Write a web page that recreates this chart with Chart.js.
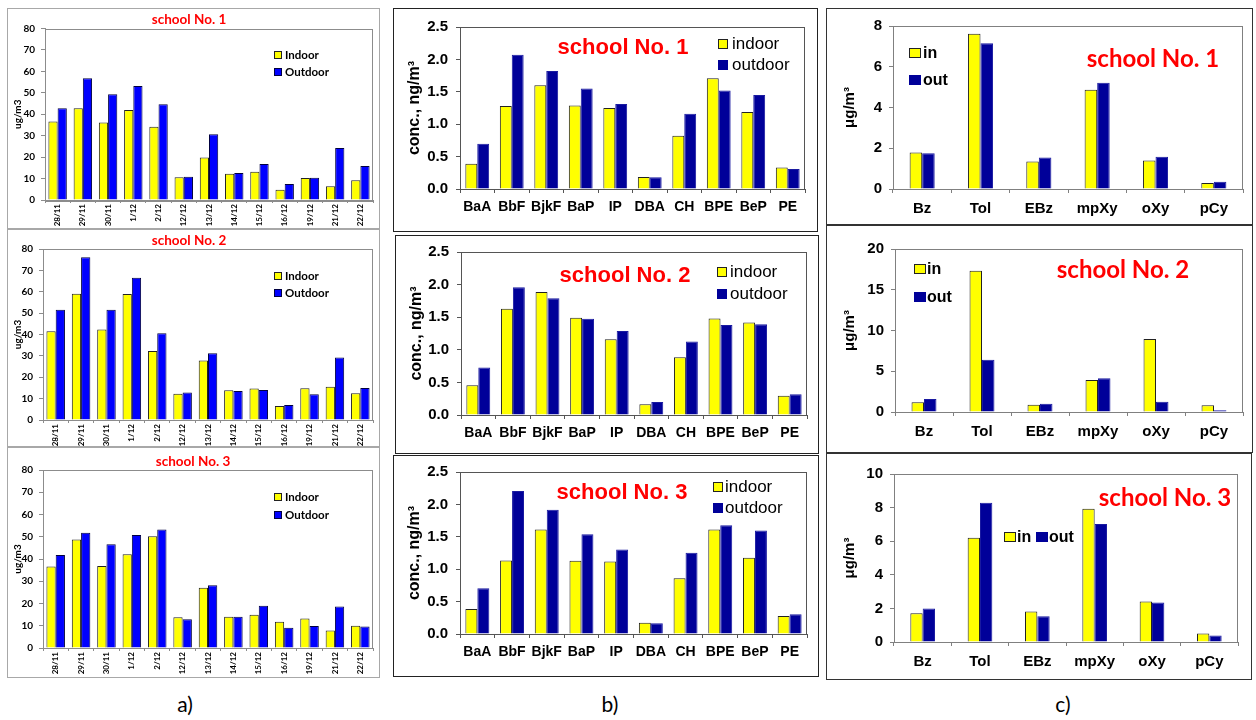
<!DOCTYPE html>
<html><head><meta charset="utf-8">
<script src="https://cdn.jsdelivr.net/npm/chart.js@4.4.1/dist/chart.umd.min.js"></script>
<style>
body{margin:0;background:#fff;width:1256px;height:720px;position:relative;overflow:hidden}
.frame{position:absolute;box-sizing:border-box}
canvas{position:absolute}
.lbl{position:absolute;font-family:Lato,sans-serif;font-size:21px;color:#000;transform:translate(-50%,-50%)}
</style></head><body>
<div class="lbl" style="left:185px;top:703px">a)</div>
<div class="lbl" style="left:610px;top:703px">b)</div>
<div class="lbl" style="left:1063px;top:703px">c)</div>
<script>
// ---------- data ----------
const dates = ['28/11','29/11','30/11','1/12','2/12','12/12','13/12','14/12','15/12','16/12','19/12','21/12','22/12'];
const s1DailyIn  = [36.6, 42.8, 36.1, 42.0, 34.2, 10.6, 19.8, 12.3, 13.2, 4.8, 10.3, 6.4, 9.2];
const s1DailyOut = [42.8, 56.8, 49.3, 53.2, 44.7, 10.9, 30.7, 12.6, 16.8, 7.5, 10.4, 24.3, 15.9];
const s2DailyIn  = [41.5, 59.1, 42.3, 59.0, 32.3, 12.3, 27.8, 13.9, 14.7, 6.6, 14.8, 15.6, 12.5];
const s2DailyOut = [51.6, 76.1, 51.6, 66.5, 40.6, 12.9, 31.2, 13.6, 14.0, 7.0, 12.0, 29.2, 15.0];
const s3DailyIn  = [36.6, 48.8, 36.9, 42.1, 50.2, 13.8, 27.1, 14.1, 15.0, 11.8, 13.3, 7.9, 10.0];
const s3DailyOut = [41.8, 51.8, 46.6, 50.8, 53.3, 12.9, 28.2, 14.1, 19.0, 9.1, 9.9, 18.7, 9.7];

const pahs = ['BaA','BbF','BjkF','BaP','IP','DBA','CH','BPE','BeP','PE'];
const s1PahIn  = [0.39, 1.28, 1.60, 1.29, 1.25, 0.185, 0.82, 1.71, 1.19, 0.33];
const s1PahOut = [0.70, 2.07, 1.82, 1.55, 1.31, 0.18, 1.16, 1.52, 1.45, 0.31];
const s2PahIn  = [0.456, 1.63, 1.885, 1.49, 1.16, 0.164, 0.886, 1.48, 1.42, 0.297];
const s2PahOut = [0.727, 1.96, 1.79, 1.475, 1.29, 0.20, 1.127, 1.38, 1.39, 0.318];
const s3PahIn  = [0.387, 1.134, 1.613, 1.129, 1.119, 0.175, 0.861, 1.613, 1.175, 0.278];
const s3PahOut = [0.706, 2.206, 1.918, 1.54, 1.304, 0.165, 1.253, 1.68, 1.598, 0.304];

const vocs = ['Bz','Tol','EBz','mpXy','oXy','pCy'];
const s1VocIn  = [1.79, 7.62, 1.35, 4.87, 1.40, 0.29];
const s1VocOut = [1.76, 7.15, 1.55, 5.21, 1.58, 0.36];
const s2VocIn  = [1.19, 17.34, 0.90, 3.93, 8.96, 0.82];
const s2VocOut = [1.60, 6.42, 1.02, 4.13, 1.27, 0.20];
const s3VocIn  = [1.71, 6.20, 1.81, 7.93, 2.41, 0.50];
const s3VocOut = [1.99, 8.29, 1.53, 7.02, 2.35, 0.38];

const titles = ['school No. 1','school No. 2','school No. 3'];
const dailyNames = ['Indoor','Outdoor'];
const pahNames = ['indoor','outdoor'];
const vocNames = ['in','out'];

// ---------- decoration plugin (plot box, in-plot title, legend) ----------
const deco = {
  id: 'deco',
  beforeDatasetsDraw(chart, args, o) {
    const {ctx, chartArea: ca} = chart;
    ctx.save();
    ctx.strokeStyle = o.boxColor; ctx.lineWidth = 1;
    ctx.strokeRect(Math.round(ca.left) + 0.5, Math.round(ca.top) + 0.5,
                   Math.round(ca.right - ca.left) - 1, Math.round(ca.bottom - ca.top));
    ctx.restore();
  },
  afterDraw(chart, args, o) {
    const ctx = chart.ctx;
    ctx.save();
    ctx.fillStyle = '#FF0000';
    ctx.font = o.titleFont;
    ctx.textAlign = 'center'; ctx.textBaseline = 'middle';
    ctx.fillText(o.title, o.tx, o.ty);
    ctx.font = o.legFont; ctx.textAlign = 'left';
    chart.data.datasets.forEach((ds, i) => {
      const it = o.items[i];
      ctx.fillStyle = ds.backgroundColor;
      ctx.fillRect(it[0], it[1] - o.bh / 2, o.bw, o.bh);
      ctx.strokeStyle = o.legBorder[i]; ctx.lineWidth = 1;
      ctx.strokeRect(it[0] + 0.5, it[1] - o.bh / 2 + 0.5, o.bw - 1, o.bh - 1);
      ctx.fillStyle = '#000';
      ctx.fillText(ds.label, it[2], it[1] + 0.5);
    });
    ctx.restore();
  }
};

function panel(c) {
  const [fx, fy, fw, fh] = c.frame;
  const [pl, pt, pr, pb] = c.plot;
  const fr = document.createElement('div');
  fr.className = 'frame';
  Object.assign(fr.style, {left: fx + 'px', top: fy + 'px', width: fw + 'px', height: fh + 'px', border: '1px solid ' + c.frameColor});
  document.body.appendChild(fr);
  const cv = document.createElement('canvas');
  cv.width = fw; cv.height = fh;
  Object.assign(cv.style, {left: fx + 'px', top: fy + 'px', width: fw + 'px', height: fh + 'px'});
  document.body.appendChild(cv);
  const yW = pl - fx, xH = fy + fh - pb;
  new Chart(cv, {
    type: 'bar',
    data: {labels: c.labels, datasets: [
      {label: c.names[0], data: c.inData, backgroundColor: '#FFFF00', borderColor: '#222', borderWidth: 1,
       borderSkipped: 'bottom', categoryPercentage: c.cat, barPercentage: 1},
      {label: c.names[1], data: c.outData, backgroundColor: c.outColor, borderColor: c.outBorder, borderWidth: 1,
       borderSkipped: 'bottom', categoryPercentage: c.cat, barPercentage: 1}
    ]},
    options: {
      responsive: false, animation: false, devicePixelRatio: 1,
      layout: {padding: {left: 0, top: pt - fy, right: fx + fw - pr, bottom: 0}},
      plugins: {legend: {display: false}, tooltip: {enabled: false}, title: {display: false},
        deco: c.deco},
      scales: {
        x: {offset: true,
          grid: {display: true, drawOnChartArea: false, drawTicks: true, tickLength: c.xTick, color: c.axisColor, offset: true},
          border: {display: true, color: c.axisColor},
          ticks: {font: c.xFont, color: '#000', maxRotation: c.rot, minRotation: c.rot, padding: c.xPad, autoSkip: false},
          afterFit: s => { s.height = xH; }},
        y: {min: 0, max: c.yMax,
          grid: {display: true, drawOnChartArea: false, drawTicks: true, tickLength: 4, color: c.axisColor},
          border: {display: true, color: c.axisColor},
          ticks: {stepSize: c.yStep, font: c.yFont, color: '#000', padding: c.yPad,
                  callback: v => c.dec ? Number(v).toFixed(c.dec) : v},
          title: {display: true, text: c.yTitle, font: c.yTitleFont, color: '#000', padding: {top: c.yTitlePad, bottom: 0}},
          afterFit: s => { s.width = yW; }}
      }
    },
    plugins: [deco]
  });
}

// ---------- column a : daily concentrations ----------
const aCommon = {labels: dates, names: dailyNames, outColor: '#0000FF', outBorder: '#000040', cat: 0.73,
  frameColor: '#a8a8a8', axisColor: '#8c8c8c', rot: 90, xPad: 1, xTick: 3, yPad: 6,
  xFont: {family: 'Lato', size: 8, weight: 'bold'}, yFont: {family: 'Lato', size: 10, weight: 'bold'},
  yMax: 80, yStep: 10, dec: 0, yTitle: 'ug/m3', yTitleFont: {family: 'Lato', size: 10, weight: 'bold'}, yTitlePad: 5};
function aDeco(i, tx, ty, ly) {
  return {boxColor: '#8c8c8c', title: titles[i], titleFont: 'bold 13.5px Lato', tx, ty,
    legFont: 'bold 11.5px Lato', bw: 8, bh: 8, legBorder: ['#222', '#000040'],
    items: [[267, ly[0], 278], [267, ly[1], 278]]};
}
panel(Object.assign({}, aCommon, {frame: [7, 8, 373, 221], plot: [45, 28.5, 373, 200],
  inData: s1DailyIn, outData: s1DailyOut, deco: aDeco(0, 182, 12, [47, 64])}));
panel(Object.assign({}, aCommon, {frame: [7, 229, 373, 218], plot: [43, 249, 373, 420],
  inData: s2DailyIn, outData: s2DailyOut, deco: aDeco(1, 182, 12, [47, 64])}));
panel(Object.assign({}, aCommon, {frame: [7, 447, 373, 231], plot: [43, 470, 373, 648],
  inData: s3DailyIn, outData: s3DailyOut, deco: aDeco(2, 186, 15, [50, 68])}));

// ---------- column b : PAHs ----------
const bCommon = {labels: pahs, names: pahNames, outColor: '#000099', outBorder: '#1a1aa0', cat: 0.69,
  frameColor: '#222', axisColor: '#555', rot: 0, xPad: 6, xTick: 4, yPad: 8,
  xFont: {family: 'Liberation Sans', size: 14, weight: 'bold'}, yFont: {family: 'Liberation Sans', size: 15, weight: 'bold'},
  yMax: 2.5, yStep: 0.5, dec: 1, yTitle: 'conc., ng/m³', yTitleFont: {family: 'Liberation Sans', size: 16, weight: 'bold'}, yTitlePad: 12};
function bDeco(i, tx, ty, bx, ly, txx) {
  return {boxColor: '#555', title: titles[i], titleFont: 'bold 22px "Liberation Sans"', tx, ty,
    legFont: '17px "Liberation Sans"', bw: 10, bh: 10, legBorder: ['#222', '#000099'],
    items: [[bx, ly[0], txx], [bx, ly[1], txx]]};
}
panel(Object.assign({}, bCommon, {frame: [393, 8, 425, 224], plot: [460, 27, 805, 189],
  inData: s1PahIn, outData: s1PahOut, deco: bDeco(0, 230, 40, 325, [36, 57], 339)}));
panel(Object.assign({}, bCommon, {frame: [395, 235, 424, 219], plot: [461, 252, 807, 415],
  inData: s2PahIn, outData: s2PahOut, deco: bDeco(1, 230, 41, 322, [37, 59], 335)}));
panel(Object.assign({}, bCommon, {frame: [393, 455, 426, 222], plot: [460, 472, 807, 634],
  inData: s3PahIn, outData: s3PahOut, deco: bDeco(2, 229, 38, 320, [32, 53], 332)}));

// ---------- column c : VOCs ----------
const cCommon = {labels: vocs, names: vocNames, outColor: '#000099', outBorder: '#1a1aa0', cat: 0.43,
  frameColor: '#333', axisColor: '#808080', rot: 0, xPad: 7, xTick: 4, yPad: 7,
  xFont: {family: 'Liberation Sans', size: 15, weight: 'bold'}, yFont: {family: 'Liberation Sans', size: 15, weight: 'bold'},
  dec: 0, yTitle: 'μg/m³', yTitleFont: {family: 'Liberation Sans', size: 15, weight: 'bold'}, yTitlePad: 15};
function cDeco(i, tx, ty, items) {
  return {boxColor: '#808080', title: titles[i], titleFont: 'bold 24px Lato', tx, ty,
    legFont: 'bold 16px "Liberation Sans"', bw: 12, bh: 10, legBorder: ['#222', '#000099'], items};
}
panel(Object.assign({}, cCommon, {frame: [826, 8, 427, 217], plot: [893, 26, 1243, 189], yMax: 8, yStep: 2,
  inData: s1VocIn, outData: s1VocOut, deco: cDeco(0, 327, 51, [[83, 45, 97], [83, 72, 97]])}));
panel(Object.assign({}, cCommon, {frame: [826, 225, 427, 228], plot: [895, 249, 1243, 412], yMax: 20, yStep: 5,
  inData: s2VocIn, outData: s2VocOut, deco: cDeco(1, 297, 45, [[88, 44, 101], [88, 72, 101]])}));
panel(Object.assign({}, cCommon, {frame: [826, 453, 426, 227], plot: [894, 474, 1238, 642], yMax: 10, yStep: 2,
  inData: s3VocIn, outData: s3VocOut, deco: cDeco(2, 339, 45, [[178, 84, 191], [210, 84, 223]])}));
</script>
</body></html>
